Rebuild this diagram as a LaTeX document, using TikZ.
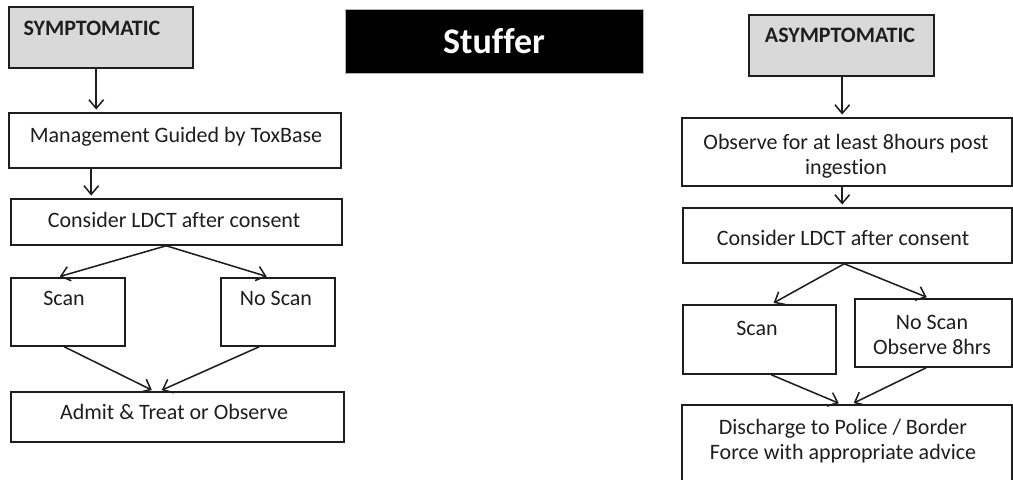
\documentclass[tikz,border=0pt]{standalone}
\usepackage{fontspec}
\setmainfont{Carlito}[Ligatures=NoCommon]
\usetikzlibrary{arrows.meta,fit,calc}
\definecolor{headgrey}{HTML}{D9D9D9}
\definecolor{ink}{HTML}{1E1E1E}
\tikzset{
  box/.style={rectangle,draw=ink,line width=1.15pt,inner sep=0pt},
  headbox/.style={box,fill=headgrey},
  txt/.style={text=ink,inner sep=0pt,anchor=base,font=\fontsize{16.5}{19}\selectfont},
  twotxt/.style={txt,anchor=center,align=center},
  headtxt/.style={txt,font=\fontsize{16.5}{19}\selectfont\bfseries},
  arr/.style={draw=ink,line width=1.15pt,-{Straight Barb[length=6.5pt,width=11pt]},shorten >=2pt}
}
\begin{document}
\begin{tikzpicture}[x=0.75pt,y=-0.75pt]
  \useasboundingbox (0,0) rectangle (1013,479);
  \clip (0,0) rectangle (1013,479);
  % title
  \node[rectangle,fill=black,draw=gray!60,line width=0.6pt,inner sep=0pt,fit={(345,9) (643,73)}] (stuffer) {};
  \node[anchor=base,inner sep=0pt,text=white,font=\fontsize{27}{30}\selectfont\bfseries] (stuffer-t) at (494,53) {Stuffer};
  % symptomatic
  \node[headbox,fit={(9,7) (193,68)}] (sym) {};
  \node[headtxt] (sym-t) at (92,35) {SYMPTOMATIC};
  \node[box,fit={(9,113) (341,168)}] (mgmt) {};
  \node[txt] (mgmt-t) at (176,142) {Management Guided by ToxBase};
  \node[box,fit={(11,199) (342,245)}] (ldct1) {};
  \node[txt] (ldct1-t) at (174,227) {Consider LDCT after consent};
  \node[box,fit={(11,278) (125,346)}] (scan1) {};
  \node[txt] (scan1-t) at (64,305) {Scan};
  \node[box,fit={(221,278) (335,346)}] (noscan1) {};
  \node[txt] (noscan1-t) at (276,305) {No Scan};
  \node[box,fit={(11,392) (344,442)}] (admit) {};
  \node[txt] (admit-t) at (174,419) {Admit \& Treat or Observe};
  % asymptomatic
  \node[headbox,fit={(749,15) (934,76)}] (asym) {};
  \node[headtxt] (asym-t) at (840,42) {ASYMPTOMATIC};
  \node[box,fit={(682,118) (1012,186)}] (obs) {};
  \node[twotxt] (obs-t) at (846,156) {Observe for at least 8hours post\\ingestion};
  \node[box,fit={(683,208) (1012,263)}] (ldct2) {};
  \node[txt] (ldct2-t) at (843,245) {Consider LDCT after consent};
  \node[box,fit={(683,305) (836,374)}] (scan2) {};
  \node[txt] (scan2-t) at (757,335) {Scan};
  \node[box,fit={(855,299) (1012,367)}] (noscan2) {};
  \node[twotxt] (noscan2-t) at (932,335) {No Scan\\Observe 8hrs};
  \node[box,fit={(682,405) (1012,495)}] (disch) {};
  \node[twotxt] (disch-t) at (843,441) {Discharge to Police / Border\\Force with appropriate advice};
  % arrows
  \draw[arr] ($(sym.south west)+(88,0)$) -- ($(mgmt.north west)+(88,0)$);
  \draw[arr] ($(mgmt.south west)+(83,0)$) -- ($(ldct1.north west)+(81,0)$);
  \draw[arr] ($(ldct1.south west)+(156,0)$) -- ($(scan1.north west)+(47,0)$);
  \draw[arr] ($(ldct1.south west)+(156,0)$) -- ($(noscan1.north west)+(49,0)$);
  \draw[arr] ($(scan1.south west)+(54,0)$) -- ($(admit.north west)+(144,0)$);
  \draw[arr] ($(noscan1.south west)+(39,0)$) -- ($(admit.north west)+(149,0)$);
  \draw[arr] ($(asym.south west)+(94,0)$) -- ($(obs.north west)+(161,0)$);
  \draw[arr] ($(obs.south west)+(161,0)$) -- ($(ldct2.north west)+(160,0)$);
  \draw[arr] ($(ldct2.south west)+(162,0)$) -- ($(scan2.north west)+(89,0)$);
  \draw[arr] ($(ldct2.south west)+(162,0)$) -- ($(noscan2.north west)+(75,0)$);
  \draw[arr] ($(scan2.south west)+(89,0)$) -- ($(disch.north west)+(160,0)$);
  \draw[arr] ($(noscan2.south west)+(72,0)$) -- ($(disch.north west)+(170,0)$);
\end{tikzpicture}
\end{document}
